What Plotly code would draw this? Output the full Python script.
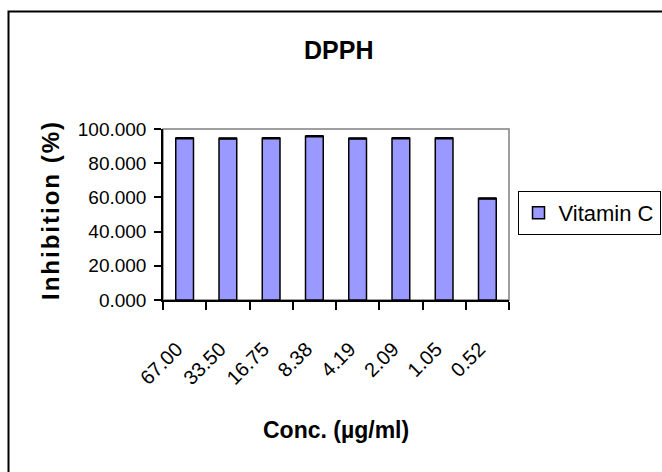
import plotly.graph_objects as go

categories = ["67.00", "33.50", "16.75", "8.38", "4.19", "2.09", "1.05", "0.52"]
inhibition = [94.6, 94.5, 94.6, 95.8, 94.5, 94.6, 94.6, 59.4]
errors = [0.3, 0.3, 0.3, 0.3, 0.3, 0.3, 0.3, 0.3]
series_name = "Vitamin C"
y_ticks = [0, 20, 40, 60, 80, 100]

FONT = "Liberation Sans, Arial, sans-serif"
W, H = 662, 472

fig = go.Figure()
fig.add_trace(go.Bar(
    x=categories, y=inhibition, name=series_name,
    marker=dict(color="#9999FF", line=dict(color="black", width=1.5)),
    error_y=dict(type="data", array=errors, visible=True, color="black", thickness=1.5, width=9),
))

# pixel helpers for paper coords (plot area 163..509 x, 129..300 y)
L, R, T, B = 163, 509, 129, 300
def px(x):
    return (x - L) / (R - L)
def py(y):
    return (B - y) / (B - T)

fig.update_layout(
    width=W, height=H,
    margin=dict(l=L, r=W - R, t=T, b=H - B),
    paper_bgcolor="white", plot_bgcolor="white",
    font=dict(family=FONT, color="black", size=19),
    bargap=0.59,
    showlegend=True,
    legend=dict(xref="container", yref="container", x=660.5 / W, y=1 - 191 / H,
                xanchor="right", yanchor="top",
                bordercolor="black", borderwidth=1, bgcolor="white",
                font=dict(size=22, family=FONT)),
    xaxis=dict(type="category", showline=True, linecolor="black", linewidth=1.5,
               ticks="outside", ticklen=8, tickcolor="black", tickwidth=1.5,
               tickson="boundaries", tickangle=-45, showgrid=False, automargin=False,
               tickvals=categories, ticktext=[c + "\u00a0\u00a0" for c in categories],
               ticklabelstandoff=20, tickfont=dict(size=20, family=FONT)),
    yaxis=dict(range=[0, 100], tickvals=y_ticks, tickformat=".3f", showline=True,
               linecolor="black", linewidth=1.5, ticks="outside", ticklen=7,
               tickcolor="black", tickwidth=1.5, showgrid=False, zeroline=False,
               automargin=False, ticklabelstandoff=4, tickfont=dict(size=19, family=FONT)),
    shapes=[
        dict(type="rect", xref="paper", yref="paper", x0=0, x1=1, y0=0, y1=1,
             line=dict(color="#808080", width=1.5), layer="below"),
        dict(type="rect", xref="paper", yref="paper", x0=px(8.5), x1=px(700), y0=py(520), y1=py(11.5),
             line=dict(color="black", width=2)),
    ],
    annotations=[
        dict(text="<b>DPPH</b>", x=px(338), y=py(50), xref="paper", yref="paper",
             showarrow=False, xanchor="center", yanchor="middle", font=dict(size=25, family=FONT)),
        dict(text="<b>Conc. (µg/ml)</b>", x=px(336), y=py(430), xref="paper", yref="paper",
             showarrow=False, xanchor="center", yanchor="middle", font=dict(size=23, family=FONT)),
        dict(text="<b>" + "\u200a".join("Inhibition (%)") + "</b>", x=px(50), y=py(211), xref="paper", yref="paper",
             showarrow=False, xanchor="center", yanchor="middle", textangle=-90,
             font=dict(size=24, family=FONT)),
    ],
)

fig.write_html("out.html", config={"displayModeBar": False},
               post_script="document.body.style.margin='0';document.body.style.overflow='hidden';")
